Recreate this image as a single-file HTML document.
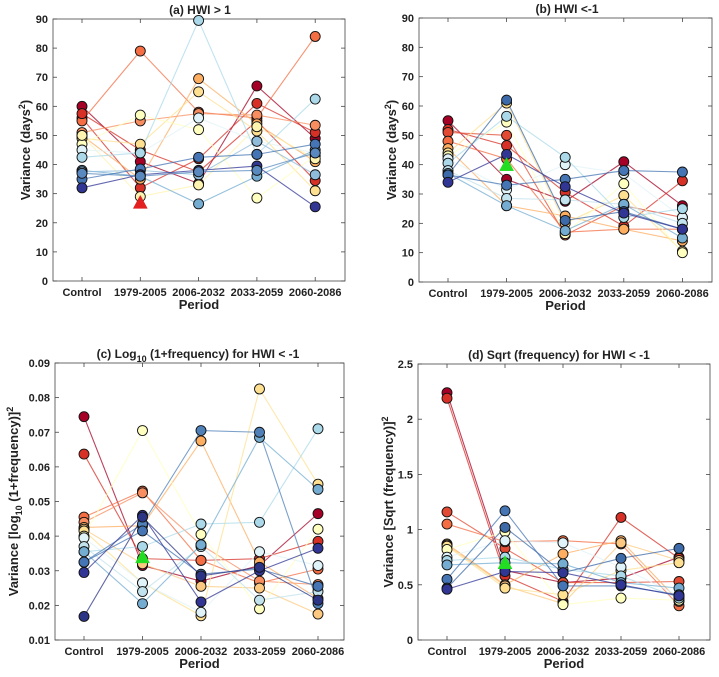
<!DOCTYPE html>
<html><head><meta charset="utf-8"><style>
html,body{margin:0;padding:0;background:#fff;}
svg{display:block;font-family:"Liberation Sans",Arial,sans-serif;}
</style></head><body>
<svg id="fig" width="719" height="677" viewBox="0 0 719 677"></svg>
<script>
const periods = ["Control","1979-2005","2006-2032","2033-2059","2060-2086"];
const aValues = [
[60,41,33.5,67,49],[56,32,42,61,51],[55,79,58,56,84],[57.5,45,37.5,55,34.5],
[51,55,57.5,57,53.5],[50,35,69.5,54,41],[49,47,65,51.5,31],[47,57,52,28.5,43],
[50,29,33,53,42],[45,44,56,48,44],[42.5,44,89.5,43.5,62.5],[38,36,26.5,36,45],
[37.5,38,36.5,48,36.5],[35,38.5,42.5,43.5,47],[32,36.5,38,39.5,25.5],[37,36,37.5,38,44]];
const aTriangle = 27;
const bValues = [
[55,35,27.5,41,26],[52,46.5,30.5,19,34.5],[51,50,16,26,22],[48,42,17,18,18],
[45.5,26,22.5,18,14],[44,61,20,29.5,10.5],[43,54.5,16.5,33.5,10],[42,31.5,40,37,22],
[40.5,56.5,42.5,22,25],[38,28.5,28,26.5,20],[37,26,17.5,26.5,15],[36.5,33,35,38,37.5],
[36.5,62,21,24,18],[34,43.5,32.5,23.5,18]];
const bTriangle = 40;
const cValues = [
[.0745,.0315,.027,.0315,.0465],[.0637,.0335,.033,.0335,.0385],[.0455,.053,.033,.0265,.0305],
[.044,.0525,.0375,.027,.026],[.0425,.043,.0675,.0325,.022],[.042,.032,.0255,.025,.0175],
[.0415,.0265,.017,.0825,.055],[.040,.0705,.0405,.019,.042],[.0395,.0265,.018,.0355,.0315],
[.037,.024,.037,.0215,.024],[.0355,.037,.0435,.044,.071],[.0355,.0205,.0375,.0685,.0535],
[.0325,.0435,.0705,.070,.0205],[.0325,.0415,.029,.0305,.0255],[.0295,.046,.021,.030,.0365],
[.0168,.0455,.0285,.031,.0215]];
const cTriangle = 0.034;
const dValues = [
[2.24,.63,.52,.56,.75],[2.19,.58,.35,1.11,.74],[1.16,.83,.52,.52,.53],[1.05,.89,.90,.87,.31],
[.87,.50,.78,.90,.35],[.86,.49,.33,.88,.72],[.85,.47,.41,.63,.70],[.82,.98,.32,.38,.36],
[.75,.90,.88,.66,.40],[.72,.75,.64,.58,.38],[.68,.70,.69,.52,.47],[.55,1.17,.49,.49,.41],
[.47,1.02,.61,.74,.83],[.46,.62,.61,.50,.40]];
const dTriangle = 0.70;
const aTicks=[0,10,20,30,40,50,60,70,80,90];
const bTicks=[0,10,20,30,40,50,60,70,80,90];
const cTicks=[0.01,0.02,0.03,0.04,0.05,0.06,0.07,0.08,0.09];
const dTicks=[0,0.5,1,1.5,2,2.5];
const dTickLabels=["0","0.5","1","1.5","2","2.5"];

const palA=["#a50026","#d73027","#f46d43","#d73027","#f88d60","#fdae61","#fee090","#ffffbf","#fff3b0","#e0f3f8","#abd9e9","#74add1","#8fbcdb","#4575b4","#313695","#5a89c0"];
const palB=["#a50026","#d73027","#e34a33","#f46d43","#fdae61","#fee090","#ffffbf","#e0f3f8","#abd9e9","#c2e2ee","#74add1","#4575b4","#3d6aa8","#313695"];
const palC=["#a50026","#d73027","#f46d43","#f88d60","#fdae61","#fdc980","#fee090","#ffffbf","#e0f3f8","#c2e2ee","#abd9e9","#74add1","#4f80b8","#4575b4","#313695","#2c3585"];
const palD=["#a50026","#d73027","#e34a33","#f46d43","#fdae61","#fdc980","#fee090","#ffffbf","#e0f3f8","#abd9e9","#74add1","#4575b4","#3d6aa8","#313695"];

const NS="http://www.w3.org/2000/svg";
const svg=document.getElementById('fig');
function mk(tag,attrs,parent){const e=document.createElementNS(NS,tag);for(const k in attrs)e.setAttribute(k,attrs[k]);(parent||svg).appendChild(e);return e;}

function panel(cfg){
  const g=mk('g',{});
  
  
  const {L,R,T,B,x0,dx,ymin,ymax}=cfg;
  const sx=i=>x0+i*dx;
  const sy=v=>B-(v-ymin)/(ymax-ymin)*(B-T);
  const fr=mk('rect',{x:L,y:T,width:R-L,height:B-T,fill:'none',stroke:'#444','stroke-width':0.8},g);
  
  
  cfg.ticks.forEach((t,i)=>{
    const y=sy(t);
    mk('line',{x1:L,x2:L+4,y1:y,y2:y,stroke:'#444','stroke-width':0.8},g);
    mk('line',{x1:R,x2:R-4,y1:y,y2:y,stroke:'#444','stroke-width':0.8},g);
    const tx=mk('text',{x:L-5,y:y+4,'text-anchor':'end','font-size':11,'font-weight':'bold',fill:'#222'},g);
    tx.textContent=cfg.labels?cfg.labels[i]:String(t);
    
    
  });
  periods.forEach((p,i)=>{
    const x=sx(i);
    mk('line',{x1:x,x2:x,y1:B,y2:B-4,stroke:'#444','stroke-width':0.8},g);
    mk('line',{x1:x,x2:x,y1:T,y2:T+4,stroke:'#444','stroke-width':0.8},g);
    const tx=mk('text',{x:x,y:B+15,'text-anchor':'middle','font-size':11,'font-weight':'bold',fill:'#222'},g);
    tx.textContent=p;
    
    
  });
  const xl=mk('text',{x:(L+R)/2,y:B+28,'text-anchor':'middle','font-size':13,'font-weight':'bold',fill:'#222'},g);
  xl.textContent='Period';
  
  
  const yl=mk('text',{x:0,y:0,'text-anchor':'middle','font-size':13,'font-weight':'bold',fill:'#222',transform:`translate(${cfg.ylx},${(T+B)/2}) rotate(-90)`},g);
  yl.innerHTML=cfg.ylabel;
  
  
  const tt=mk('text',{x:cfg.tx,y:T-5,'text-anchor':'middle','font-size':12,'font-weight':'bold',fill:'#222'},g);
  tt.innerHTML=cfg.title;
  
  
  cfg.values.forEach((s,k)=>{
    const col=cfg.pal[k%cfg.pal.length];
    const pl=mk('polyline',{points:s.map((v,i)=>sx(i)+','+sy(v)).join(' '),fill:'none',stroke:col,'stroke-width':1.1,opacity:0.75},g);
    
    
  });
  cfg.values.forEach((s,k)=>{
    const col=cfg.pal[k%cfg.pal.length];
    s.forEach((v,i)=>{
      const c=mk('circle',{cx:sx(i),cy:sy(v),r:5,fill:col,stroke:'#111','stroke-width':0.9},g);
      
      
    });
  });
  const ty=sy(cfg.tri), tx0=sx(1);
  const tri=mk('polygon',{points:`${tx0-7},${ty+6} ${tx0+7},${ty+6} ${tx0},${ty-7}`,fill:cfg.triColor,stroke:cfg.triColor,'stroke-width':0.5},g);
  
  
}
panel({id:'a',L:53,R:345,T:19,B:281,x0:82,dx:58.3,ymin:0,ymax:90,ticks:aTicks,values:aValues,pal:palA,tri:aTriangle,triColor:'#e32020',ylx:30,tx:200,title:'(a) HWI &gt; 1',ylabel:'Variance (days<tspan font-size="9" dy="-5">2</tspan><tspan dy="5">)</tspan>'});
panel({id:'b',L:419,R:712,T:18,B:282,x0:448,dx:58.6,ymin:0,ymax:90,ticks:bTicks,values:bValues,pal:palB,tri:bTriangle,triColor:'#22dd22',ylx:396,tx:567,title:'(b) HWI &lt;-1',ylabel:'Variance (days<tspan font-size="9" dy="-5">2</tspan><tspan dy="5">)</tspan>'});
panel({id:'c',L:55,R:344,T:363,B:640,x0:84,dx:58.5,ymin:0.01,ymax:0.09,ticks:cTicks,values:cValues,pal:palC,tri:cTriangle,triColor:'#22dd22',ylx:18,tx:198,title:'(c) Log<tspan font-size="9" dy="4">10</tspan><tspan dy="-4"> (1+frequency) for HWI &lt; -1</tspan>',ylabel:'Variance [log<tspan font-size="9" dy="4">10</tspan><tspan dy="-4"> (1+frequency)]</tspan><tspan font-size="9" dy="-5">2</tspan>'});
panel({id:'d',L:418,R:710,T:364,B:640,x0:447,dx:58,ymin:0,ymax:2.5,ticks:dTicks,labels:dTickLabels,values:dValues,pal:palD,tri:dTriangle,triColor:'#22dd22',ylx:393,tx:559,title:'(d) Sqrt (frequency) for HWI &lt; -1',ylabel:'Variance [Sqrt (frequency)]<tspan font-size="9" dy="-5">2</tspan>'});
</script>
</body></html>
